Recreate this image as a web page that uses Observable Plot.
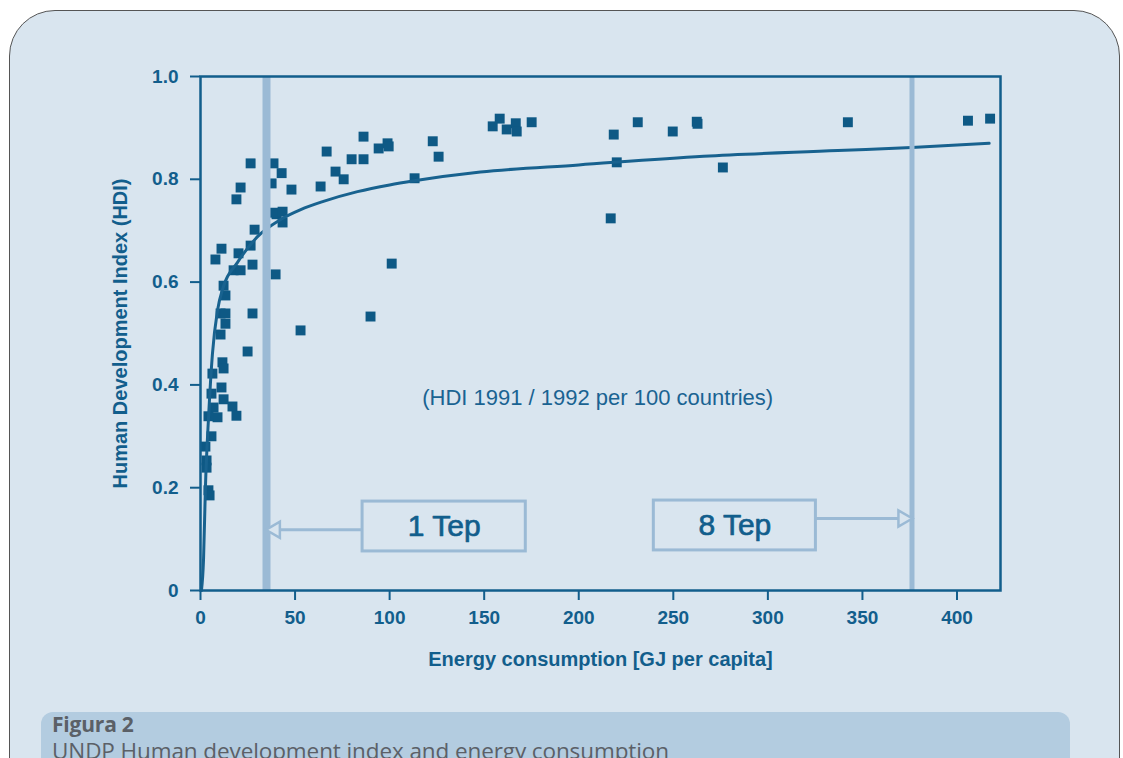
<!DOCTYPE html>
<html><head><meta charset="utf-8">
<script src="https://cdn.jsdelivr.net/npm/d3@7"></script>
<script src="https://cdn.jsdelivr.net/npm/@observablehq/plot@0.6"></script>
<style>
html,body{margin:0;padding:0;background:#fff;width:1123px;height:758px;overflow:hidden;}
#panel{position:absolute;left:9px;top:10px;width:1111px;height:820px;background:#d9e5ef;border:1.5px solid #555;border-radius:46px;box-sizing:border-box;}
#chart{position:absolute;left:0;top:0;}
#caption{position:absolute;left:41px;top:712px;width:1029px;height:120px;background:#b3cce0;border-radius:12px;font-family:"Open Sans",sans-serif;color:#5b6067;box-sizing:border-box;padding:0 11px;}
#caption .t{font-weight:700;font-size:21px;line-height:25px;margin-top:0px;letter-spacing:-0.2px;}
#caption .s{font-size:22.5px;line-height:28px;letter-spacing:-0.1px;}
</style></head>
<body>
<div id="panel"></div>
<div id="chart"></div>
<div id="caption"><div class="t">Figura 2</div><div class="s">UNDP Human development index and energy consumption</div></div>
<script>
// Scatter data: energy consumption (GJ per capita) and HDI
const energy = [26.5,38.6,42.9,37.6,21.2,19.0,48.1,63.5,66.7,71.4,75.7,79.9,86.2,86.2,94.2,98.9,
  40.2,43.4,38.6,43.4,28.6,26.5,11.1,7.9,20.1,27.5,17.5,21.2,39.7,12.2,13.2,27.5,10.6,13.2,13.2,10.6,
  52.9,89.9,24.9,11.6,12.2,6.3,11.1,5.8,12.2,16.9,19.0,6.9,9.0,4.2,5.8,2.6,3.2,3.2,4.2,4.8,
  101.1,113.2,122.8,125.9,154.5,158.2,161.9,166.7,167.2,175.1,218.5,231.2,249.7,262.4,220.1,276.2,
  342.3,405.8,417.5,216.9,262.8,99.5];
const hdi = [0.831,0.831,0.812,0.792,0.784,0.761,0.780,0.786,0.854,0.815,0.800,0.839,0.883,0.839,0.860,0.870,
  0.732,0.716,0.735,0.737,0.702,0.671,0.665,0.644,0.656,0.634,0.623,0.623,0.615,0.593,0.574,0.539,0.539,0.539,0.519,0.498,
  0.506,0.533,0.465,0.444,0.432,0.422,0.395,0.383,0.372,0.358,0.340,0.356,0.337,0.339,0.300,0.280,0.253,0.239,0.195,0.185,
  0.636,0.802,0.874,0.844,0.903,0.918,0.897,0.909,0.893,0.911,0.887,0.911,0.893,0.912,0.833,0.823,
  0.911,0.914,0.918,0.724,0.908,0.864];
// Fitted curve
const curveX = [0.5,1.6,2.6,4.3,6.3,9,12,19.5,30,42,53,65,83,100,113,148,200,266,337,376,417];
const curveY = [0,0.06,0.2,0.34,0.46,0.545,0.59,0.638,0.688,0.721,0.741,0.757,0.776,0.789,0.797,0.814,0.828,0.845,0.856,0.862,0.870];
// Reference lines (1 Tep, 8 Tep)
const refX = [34.9, 376.2];
const refW = [8, 5];
const boxLabels = ["1 Tep","8 Tep"];
const boxX1 = [85.7, 239.7];
const boxX2 = [172.0, 325.4];
const boxY1 = [0.076, 0.078];
const boxY2 = [0.173, 0.175];
const arrowFromX = [85.7, 325.4];
const arrowToX = [39.5, 371.5];
const arrowY = [0.118, 0.140];
const arrowRot = [-90, 90];
const xTicks = [0,50,100,150,200,250,300,350,400];
const yTicks = [0,0.2,0.4,0.6,0.8,1.0];
const yTickLabels = ["0","0.2","0.4","0.6","0.8","1.0"];
const note = "(HDI 1991 / 1992 per 100 countries)";

const pts = energy.map((e,i)=>({x:e,y:hdi[i]}));
const curve = curveX.map((c,i)=>({x:c,y:curveY[i]}));
const boxes = boxLabels.map((l,i)=>({label:l,x1:boxX1[i],x2:boxX2[i],y1:boxY1[i],y2:boxY2[i],xc:(boxX1[i]+boxX2[i])/2,yc:(boxY1[i]+boxY2[i])/2}));
const arrows = arrowFromX.map((a,i)=>({x1:a,x2:arrowToX[i],y:arrowY[i],r:arrowRot[i]}));

const ink = "#125e8c";
const light = "#9bbad5";
const bg = "#d9e5ef";
const font = "'Liberation Sans',Arial,sans-serif";

const chart = Plot.plot({
  width: 1123, height: 700,
  marginLeft: 200, marginRight: 123, marginTop: 76, marginBottom: 110,
  style: {background: "transparent", fontFamily: font, color: ink, overflow: "visible"},
  x: {domain: [0, 423], label: null},
  y: {domain: [0, 1], label: null},
  marks: [
    Plot.axisX({ticks: xTicks, tickSize: 10, tickPadding: 10, stroke: ink, strokeWidth: 2, fill: ink, fontSize: 19, fontWeight: "bold", letterSpacing: "-1px", label: null}),
    Plot.axisY({ticks: yTicks, tickSize: 10, tickPadding: 12, stroke: ink, strokeWidth: 2, fill: ink, fontSize: 19, fontWeight: "bold", letterSpacing: "-1px", tickFormat: d=>yTickLabels[yTicks.indexOf(d)], label: null}),
    Plot.text(["Energy consumption [GJ per capita]"], {frameAnchor: "bottom", dy: 75, fill: ink, fontSize: 20, fontWeight: "bold", letterSpacing: "-0.3px", text: d=>d}),
    Plot.text(["Human Development Index (HDI)"], {frameAnchor: "left", textAnchor: "middle", dx: -80, rotate: -90, fill: ink, fontSize: 20, fontWeight: "bold", letterSpacing: "-0.3px", text: d=>d}),
    Plot.dot(pts, {x: "x", y: "y", symbol: "square", r: 5.6, fill: "#0e5985", stroke: "none"}),
    Plot.line(curve, {x: "x", y: "y", curve: "monotone-x", stroke: "#18628f", strokeWidth: 3}),
    Plot.ruleX(refX.map((x,i)=>({x, w: refW[i]})), {x: "x", y1: 0, y2: 1, stroke: light, strokeWidth: "w"}),
    Plot.rect(boxes, {x1: "x1", x2: "x2", y1: "y1", y2: "y2", fill: "none", stroke: light, strokeWidth: 3}),
    Plot.text(boxes, {x: "xc", y: "yc", text: "label", fill: ink, stroke: ink, strokeWidth: 0.7, fontSize: 30}),
    Plot.link(arrows, {x1: "x1", x2: "x2", y1: "y", y2: "y", stroke: light, strokeWidth: 3}),
    Plot.dot(arrows, {x: "x2", y: "y", symbol: "triangle", r: 6, rotate: "r", fill: bg, stroke: light, strokeWidth: 2.5}),
    Plot.text([note], {x: 210, y: 0.375, text: d=>d, fill: "#1a6392", fontSize: 22, letterSpacing: "-0.4px"}),
    Plot.frame({stroke: ink, strokeWidth: 2.5})
  ]
});
document.getElementById("chart").appendChild(chart);
</script>
</body></html>
